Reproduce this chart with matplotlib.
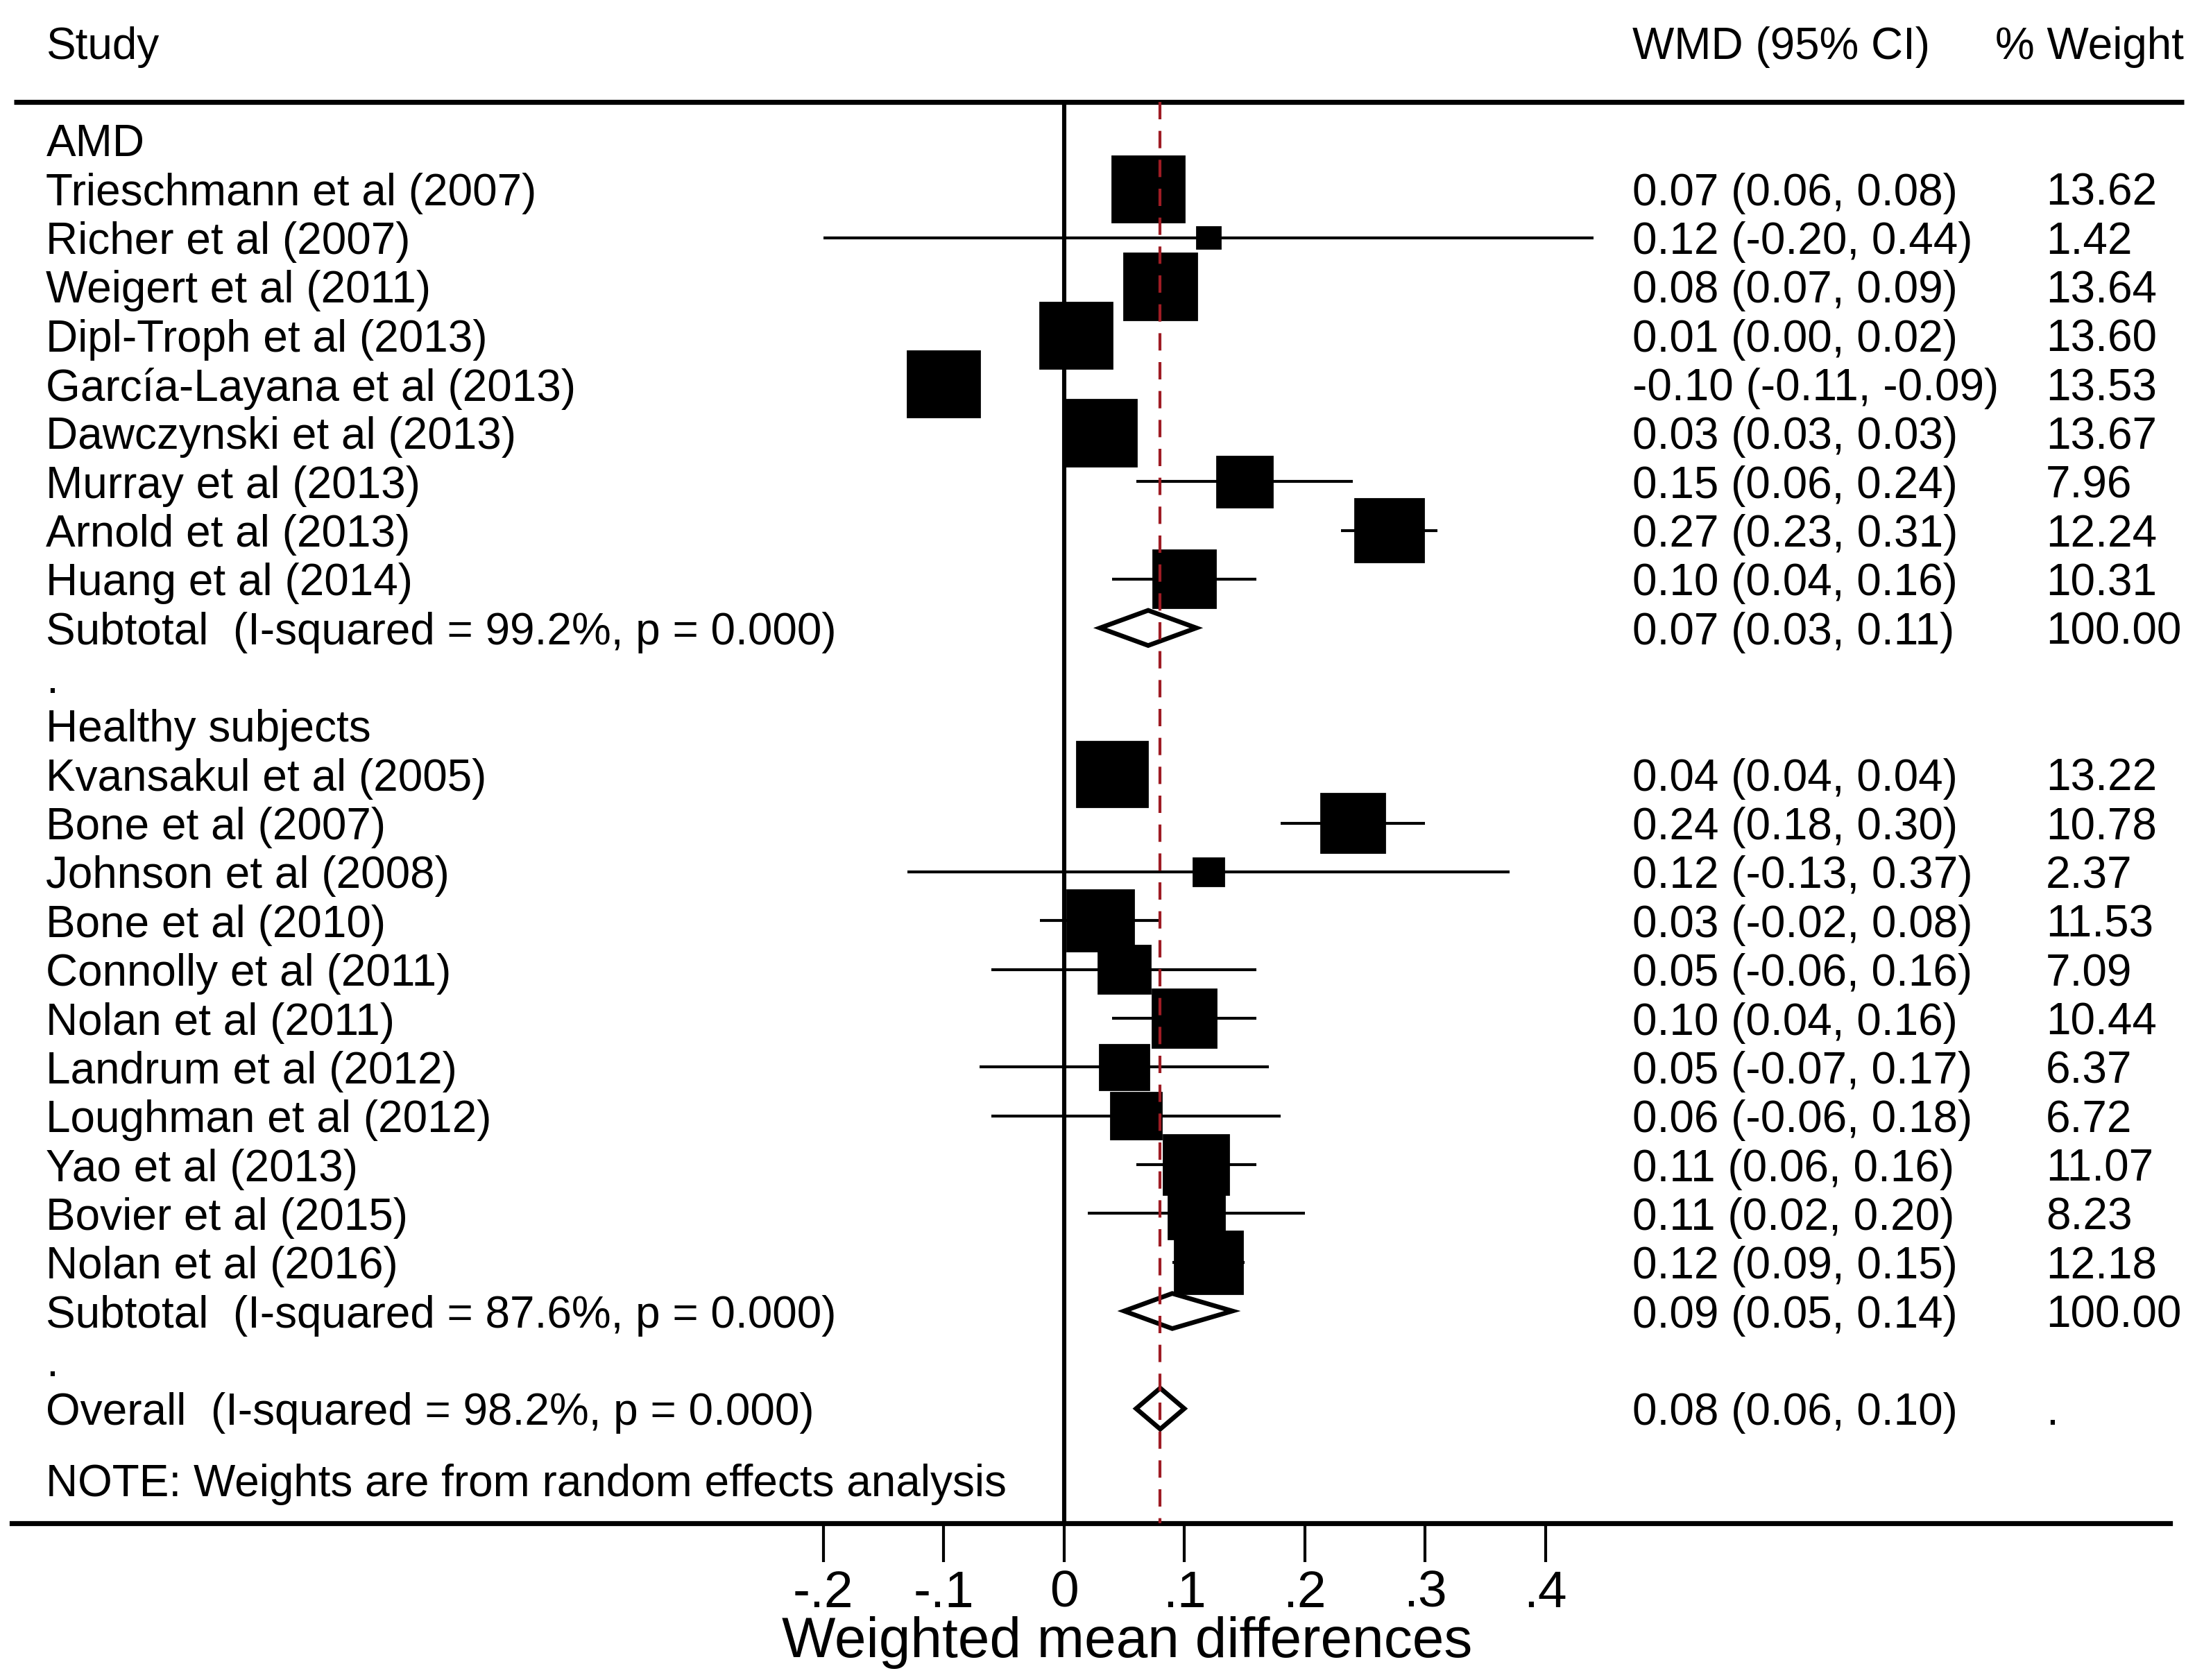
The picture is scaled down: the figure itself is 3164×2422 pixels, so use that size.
import numpy as np
import matplotlib.pyplot as plt
from matplotlib.patches import Rectangle, Polygon
import matplotlib.transforms as mtransforms

plt.rcParams['font.family'] = ['Liberation Sans', 'DejaVu Sans']

# AMD studies
amd_names = ['Trieschmann et al (2007)', 'Richer et al (2007)', 'Weigert et al (2011)',
             'Dipl-Troph et al (2013)', 'García-Layana et al (2013)', 'Dawczynski et al (2013)',
             'Murray et al (2013)', 'Arnold et al (2013)', 'Huang et al (2014)']
amd_est = [0.07, 0.12, 0.08, 0.01, -0.10, 0.03, 0.15, 0.27, 0.10]
amd_lo = [0.06, -0.20, 0.07, 0.00, -0.11, 0.03, 0.06, 0.23, 0.04]
amd_hi = [0.08, 0.44, 0.09, 0.02, -0.09, 0.03, 0.24, 0.31, 0.16]
amd_w = [13.62, 1.42, 13.64, 13.60, 13.53, 13.67, 7.96, 12.24, 10.31]
amd_sub = (0.07, 0.03, 0.11)
amd_sub_label = 'Subtotal  (I-squared = 99.2%, p = 0.000)'

# Healthy subjects
hs_names = ['Kvansakul et al (2005)', 'Bone et al (2007)', 'Johnson et al (2008)',
            'Bone et al (2010)', 'Connolly et al (2011)', 'Nolan et al (2011)',
            'Landrum et al (2012)', 'Loughman et al (2012)', 'Yao et al (2013)',
            'Bovier et al (2015)', 'Nolan et al (2016)']
hs_est = [0.04, 0.24, 0.12, 0.03, 0.05, 0.10, 0.05, 0.06, 0.11, 0.11, 0.12]
hs_lo = [0.04, 0.18, -0.13, -0.02, -0.06, 0.04, -0.07, -0.06, 0.06, 0.02, 0.09]
hs_hi = [0.04, 0.30, 0.37, 0.08, 0.16, 0.16, 0.17, 0.18, 0.16, 0.20, 0.15]
hs_w = [13.22, 10.78, 2.37, 11.53, 7.09, 10.44, 6.37, 6.72, 11.07, 8.23, 12.18]
hs_sub = (0.09, 0.05, 0.14)
hs_sub_label = 'Subtotal  (I-squared = 87.6%, p = 0.000)'

overall = (0.08, 0.06, 0.10)
overall_label = 'Overall  (I-squared = 98.2%, p = 0.000)'

xticks = [-0.2, -0.1, 0, 0.1, 0.2, 0.3, 0.4]
xticklabels = ['-.2', '-.1', '0', '.1', '.2', '.3', '.4']

fmt = lambda e, l, h: f'{e:.2f} ({l:.2f}, {h:.2f})'

fig = plt.figure(figsize=(15.82, 12.11), dpi=200)
ax = fig.add_axes([0, 0.0933, 1, 0.9067])
ax.set_xlim(-0.8837, 0.9395)
ax.set_ylim(29.35, -1.87)
for s in ['top', 'left', 'right']:
    ax.spines[s].set_visible(False)
ax.spines['bottom'].set_linewidth(2.6)
ax.spines['bottom'].set_bounds(-0.874, 0.919)
ax.set_yticks([])
ax.set_xticks(xticks)
ax.set_xticklabels(xticklabels, fontsize=27)
ax.tick_params(axis='x', direction='out', length=20, width=1.5, pad=4)
ax.set_xlabel('Weighted mean differences', fontsize=29.5)
ax.xaxis.set_label_coords(0.5134, -0.061)

tx = mtransforms.blended_transform_factory(ax.transAxes, ax.transData)
fs = 23
kw = dict(transform=tx, fontsize=fs, va='center_baseline')
col_name, col_wmd, col_w = 0.021, 0.7436, 0.932

# header
ax.text(col_name, -1, 'Study', **kw)
ax.text(col_wmd, -1, 'WMD (95% CI)', **kw)
ax.text(0.909, -1, '% Weight', **kw)
ax.hlines(0.225, -0.872, 0.930, color='black', lw=2.6)

bx, by = 14.0 / 860, 12.8 / 34.85   # box side per sqrt(weight), in x and row units


def study_rows(names, est, lo, hi, w, start):
    for i, (n, e, l, h, wt) in enumerate(zip(names, est, lo, hi, w)):
        r = start + i
        ax.hlines(r, l, h, color='black', lw=1.5, zorder=2)
        sw, sh = bx * np.sqrt(wt), by * np.sqrt(wt)
        ax.add_patch(Rectangle((e - sw / 2, r - sh / 2), sw, sh, color='black', zorder=3))
        ax.text(col_name, r, n, **kw)
        ax.text(col_wmd, r, fmt(e, l, h), **kw)
        ax.text(col_w, r, f'{wt:.2f}', **kw)


def diamond(vals, r, label, weight, half=0.36):
    e, l, h = vals
    ax.add_patch(Polygon([(l, r), (e, r - half), (h, r), (e, r + half)], closed=True,
                         facecolor='white', edgecolor='black', lw=2.4, zorder=4))
    ax.text(col_name, r, label, **kw)
    ax.text(col_wmd, r, fmt(e, l, h), **kw)
    ax.text(col_w, r, weight, **kw)


ax.text(col_name, 1, 'AMD', **kw)
study_rows(amd_names, amd_est, amd_lo, amd_hi, amd_w, 2)
diamond(amd_sub, 11, amd_sub_label, '100.00')
ax.text(col_name, 12, '.', **kw)

ax.text(col_name, 13, 'Healthy subjects', **kw)
study_rows(hs_names, hs_est, hs_lo, hs_hi, hs_w, 14)
diamond(hs_sub, 25, hs_sub_label, '100.00')
ax.text(col_name, 26, '.', **kw)

diamond(overall, 27, overall_label, '.', half=0.42)
ax.text(col_name, 28.46, 'NOTE: Weights are from random effects analysis', **kw)

# null line and overall effect line
ax.vlines(0, 0.225, 29.35, color='black', lw=2.2, zorder=1)
ax.vlines(overall[0], 0.225, 29.35, color='#9e1c24', lw=1.5, linestyles=(0, (6, 4)), zorder=5)

fig.savefig('out.png', dpi=200)
